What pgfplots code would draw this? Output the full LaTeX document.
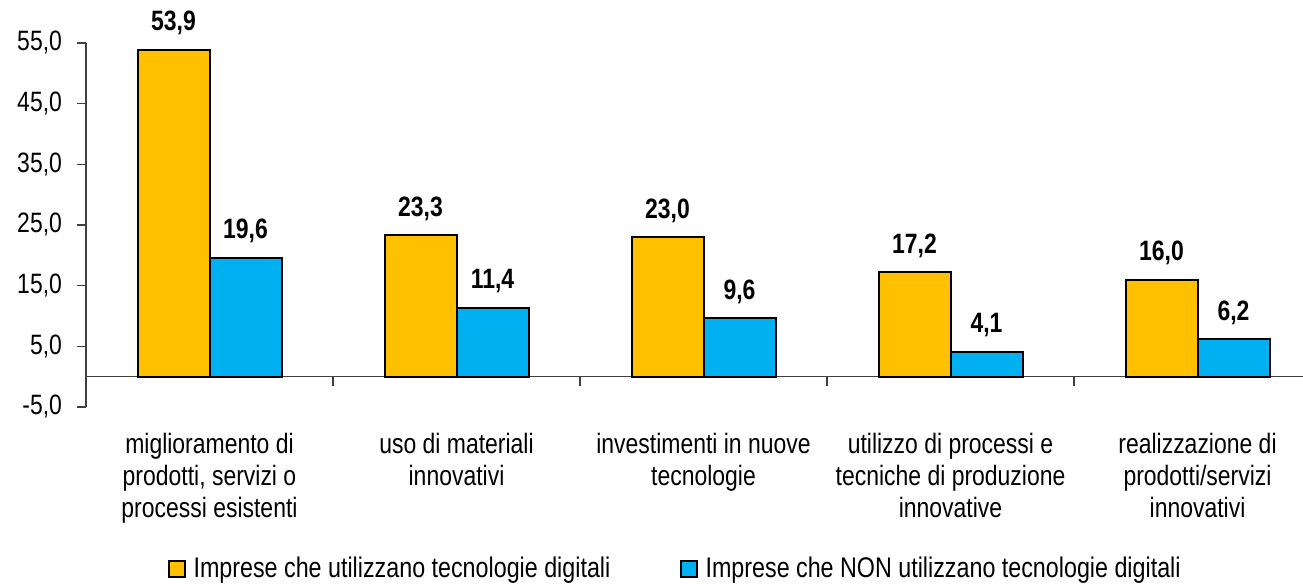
\documentclass[border=0pt]{standalone}
\usepackage{fontspec}
\setmainfont{Liberation Sans}[FakeStretch=0.82]
\usepackage{pgfplots}
\pgfplotsset{compat=1.18}
\usetikzlibrary{calc}
\definecolor{cOrange}{HTML}{FFC000}
\definecolor{cBlue}{HTML}{00B0F0}
\definecolor{axgray}{HTML}{404040}
\begin{document}
\begin{tikzpicture}
\begin{axis}[
  scale only axis,
  width=608.5pt, height=182pt,
  xmin=-0.5, xmax=4.427,
  ymin=-5, ymax=55,
  clip=false,
  axis y line*=left,
  axis x line*=middle,
  axis line style={draw=axgray, line width=0.8pt},
  ytick={-5,5,15,25,35,45,55},
  yticklabel style={font=\fontsize{14}{16}\selectfont, xshift=-4pt, /pgf/number format/.cd, use comma, fixed, fixed zerofill, precision=1, assume math mode=true},
  y tick style={draw=axgray, line width=0.8pt},
  major tick length=4.5pt,
  tick align=outside,
  xtick={0,1,2,3,4},
  x tick style={draw=none},
  xticklabels={{miglioramento di\\prodotti, servizi o\\processi esistenti},{uso di materiali\\innovativi},{investimenti in nuove\\tecnologie},{utilizzo di processi e\\tecniche di produzione\\innovative},{realizzazione di\\prodotti/servizi\\innovativi}},
  xticklabel style={align=center, font=\fontsize{14}{16}\selectfont, yshift=-20pt},
  extra x ticks={0.5,1.5,2.5,3.5},
  extra x tick labels={},
  extra x tick style={x tick style={draw=axgray, line width=0.8pt}, major tick length=4.5pt},
  ybar=0pt,
  bar width=36pt,
  nodes near coords,
  nodes near coords style={font=\bfseries\fontsize{14}{16}\selectfont, anchor=base, yshift=9.5pt, /pgf/number format/.cd, use comma, fixed, fixed zerofill, precision=1, assume math mode=true},
  legend columns=2,
  legend style={at={(axis description cs:0.5,0)}, anchor=center, xshift=-9pt, yshift=-81pt, draw=none, font=\fontsize{14.2}{16}\selectfont,
    /tikz/every odd column/.append style={column sep=2pt},
    /tikz/every even column/.append style={column sep=33pt}},
  legend image code/.code={\draw[#1, line width=0.8pt] (0pt,-3.9pt) rectangle (7.8pt,3.9pt);},
]
\addplot[fill=cOrange, draw=black, line width=1pt] coordinates {(0,53.9) (1,23.3) (2,23.0) (3,17.2) (4,16.0)};
\addplot[fill=cBlue, draw=black, line width=1pt] coordinates {(0,19.6) (1,11.4) (2,9.6) (3,4.1) (4,6.2)};
\legend{Imprese che utilizzano tecnologie digitali, Imprese che NON utilizzano tecnologie digitali}
\end{axis}
\pgfresetboundingbox
\useasboundingbox ($(current axis.south west)+(-43pt,-88.5pt)$) rectangle ($(current axis.north east)+(0pt,21.5pt)$);
\end{tikzpicture}
\end{document}
